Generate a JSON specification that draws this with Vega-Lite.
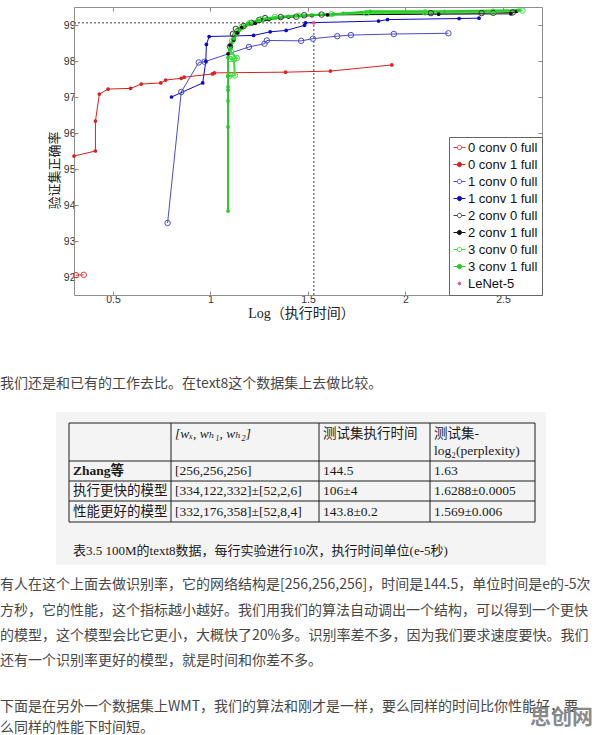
{
  "$schema": "https://vega.github.io/schema/vega-lite/v6.json",
  "background": "white",
  "padding": {"left": 0, "top": 5, "right": 0, "bottom": 0},
  "bounds": "flush",
  "spacing": 0,
  "config": {
    "view": {"stroke": null},
    "axis": {"domainColor": "#8c8c8c", "tickColor": "#8c8c8c", "labelColor": "#333333", "labelFont": "Liberation Sans", "labelFontSize": 10.5, "grid": false, "tickSize": -4, "domainWidth": 1}
  },
  "datasets": {
    "refs": [
      {"t0": 0.3, "t1": 1.53, "a0": 99.06, "a1": 99.06},
      {"t0": 1.53, "t1": 1.53, "a0": 91.5, "a1": 99.06}
    ],
    "curves": [
      {"series": "0 conv 0 full", "i": 1, "logt": 0.31, "acc": 92.05},
      {"series": "0 conv 0 full", "i": 2, "logt": 0.35, "acc": 92.06},
      {"series": "0 conv 1 full", "i": 1, "logt": 0.30, "acc": 95.36},
      {"series": "0 conv 1 full", "i": 2, "logt": 0.41, "acc": 95.50},
      {"series": "0 conv 1 full", "i": 3, "logt": 0.41, "acc": 96.33},
      {"series": "0 conv 1 full", "i": 4, "logt": 0.43, "acc": 97.08},
      {"series": "0 conv 1 full", "i": 5, "logt": 0.475, "acc": 97.22},
      {"series": "0 conv 1 full", "i": 6, "logt": 0.59, "acc": 97.24},
      {"series": "0 conv 1 full", "i": 7, "logt": 0.645, "acc": 97.36},
      {"series": "0 conv 1 full", "i": 8, "logt": 0.745, "acc": 97.39},
      {"series": "0 conv 1 full", "i": 9, "logt": 0.77, "acc": 97.47},
      {"series": "0 conv 1 full", "i": 10, "logt": 0.85, "acc": 97.52},
      {"series": "0 conv 1 full", "i": 11, "logt": 0.865, "acc": 97.55},
      {"series": "0 conv 1 full", "i": 12, "logt": 1.01, "acc": 97.64},
      {"series": "0 conv 1 full", "i": 13, "logt": 1.02, "acc": 97.67},
      {"series": "0 conv 1 full", "i": 14, "logt": 1.385, "acc": 97.69},
      {"series": "0 conv 1 full", "i": 15, "logt": 1.615, "acc": 97.72},
      {"series": "0 conv 1 full", "i": 16, "logt": 1.93, "acc": 97.89},
      {"series": "1 conv 0 full", "i": 1, "logt": 0.78, "acc": 93.50},
      {"series": "1 conv 0 full", "i": 2, "logt": 0.85, "acc": 97.14},
      {"series": "1 conv 0 full", "i": 3, "logt": 0.94, "acc": 97.96},
      {"series": "1 conv 0 full", "i": 4, "logt": 0.97, "acc": 97.98},
      {"series": "1 conv 0 full", "i": 5, "logt": 1.197, "acc": 98.39},
      {"series": "1 conv 0 full", "i": 6, "logt": 1.277, "acc": 98.48},
      {"series": "1 conv 0 full", "i": 7, "logt": 1.289, "acc": 98.57},
      {"series": "1 conv 0 full", "i": 8, "logt": 1.465, "acc": 98.56},
      {"series": "1 conv 0 full", "i": 9, "logt": 1.525, "acc": 98.62},
      {"series": "1 conv 0 full", "i": 10, "logt": 1.65, "acc": 98.69},
      {"series": "1 conv 0 full", "i": 11, "logt": 1.72, "acc": 98.72},
      {"series": "1 conv 0 full", "i": 12, "logt": 1.94, "acc": 98.75},
      {"series": "1 conv 0 full", "i": 13, "logt": 2.22, "acc": 98.77},
      {"series": "1 conv 1 full", "i": 1, "logt": 0.80, "acc": 97.00},
      {"series": "1 conv 1 full", "i": 2, "logt": 0.96, "acc": 97.39},
      {"series": "1 conv 1 full", "i": 3, "logt": 0.976, "acc": 97.99},
      {"series": "1 conv 1 full", "i": 4, "logt": 0.979, "acc": 98.46},
      {"series": "1 conv 1 full", "i": 5, "logt": 0.993, "acc": 98.68},
      {"series": "1 conv 1 full", "i": 6, "logt": 1.221, "acc": 98.71},
      {"series": "1 conv 1 full", "i": 7, "logt": 1.306, "acc": 98.81},
      {"series": "1 conv 1 full", "i": 8, "logt": 1.388, "acc": 98.85},
      {"series": "1 conv 1 full", "i": 9, "logt": 1.482, "acc": 98.99},
      {"series": "1 conv 1 full", "i": 10, "logt": 1.487, "acc": 99.06},
      {"series": "1 conv 1 full", "i": 11, "logt": 1.862, "acc": 99.11},
      {"series": "1 conv 1 full", "i": 12, "logt": 1.908, "acc": 99.15},
      {"series": "1 conv 1 full", "i": 13, "logt": 2.275, "acc": 99.18},
      {"series": "1 conv 1 full", "i": 14, "logt": 2.377, "acc": 99.19},
      {"series": "2 conv 0 full", "i": 1, "logt": 1.10, "acc": 98.40},
      {"series": "2 conv 0 full", "i": 2, "logt": 1.115, "acc": 98.75},
      {"series": "2 conv 0 full", "i": 3, "logt": 1.13, "acc": 98.89},
      {"series": "2 conv 0 full", "i": 4, "logt": 1.17, "acc": 98.97},
      {"series": "2 conv 0 full", "i": 5, "logt": 1.21, "acc": 99.06},
      {"series": "2 conv 0 full", "i": 6, "logt": 1.25, "acc": 99.14},
      {"series": "2 conv 0 full", "i": 7, "logt": 1.28, "acc": 99.19},
      {"series": "2 conv 0 full", "i": 8, "logt": 1.36, "acc": 99.22},
      {"series": "2 conv 0 full", "i": 9, "logt": 1.44, "acc": 99.23},
      {"series": "2 conv 0 full", "i": 10, "logt": 1.48, "acc": 99.27},
      {"series": "2 conv 0 full", "i": 11, "logt": 1.57, "acc": 99.29},
      {"series": "2 conv 0 full", "i": 12, "logt": 2.13, "acc": 99.33},
      {"series": "2 conv 0 full", "i": 13, "logt": 2.39, "acc": 99.33},
      {"series": "2 conv 0 full", "i": 14, "logt": 2.45, "acc": 99.34},
      {"series": "2 conv 0 full", "i": 15, "logt": 2.55, "acc": 99.35},
      {"series": "2 conv 1 full", "i": 1, "logt": 1.09, "acc": 98.20},
      {"series": "2 conv 1 full", "i": 2, "logt": 1.10, "acc": 98.44},
      {"series": "2 conv 1 full", "i": 3, "logt": 1.12, "acc": 98.58},
      {"series": "2 conv 1 full", "i": 4, "logt": 1.14, "acc": 98.78},
      {"series": "2 conv 1 full", "i": 5, "logt": 1.16, "acc": 98.93},
      {"series": "2 conv 1 full", "i": 6, "logt": 1.23, "acc": 99.05},
      {"series": "2 conv 1 full", "i": 7, "logt": 1.30, "acc": 99.15},
      {"series": "2 conv 1 full", "i": 8, "logt": 1.40, "acc": 99.22},
      {"series": "2 conv 1 full", "i": 9, "logt": 1.52, "acc": 99.26},
      {"series": "2 conv 1 full", "i": 10, "logt": 1.60, "acc": 99.28},
      {"series": "2 conv 1 full", "i": 11, "logt": 2.17, "acc": 99.30},
      {"series": "2 conv 1 full", "i": 12, "logt": 2.54, "acc": 99.31},
      {"series": "2 conv 1 full", "i": 13, "logt": 2.57, "acc": 99.38},
      {"series": "3 conv 0 full", "i": 1, "logt": 1.095, "acc": 97.58},
      {"series": "3 conv 0 full", "i": 2, "logt": 1.125, "acc": 97.60},
      {"series": "3 conv 0 full", "i": 3, "logt": 1.12, "acc": 98.05},
      {"series": "3 conv 0 full", "i": 4, "logt": 1.10, "acc": 98.06},
      {"series": "3 conv 0 full", "i": 5, "logt": 1.135, "acc": 98.08},
      {"series": "3 conv 0 full", "i": 6, "logt": 1.105, "acc": 98.25},
      {"series": "3 conv 0 full", "i": 7, "logt": 1.11, "acc": 98.55},
      {"series": "3 conv 0 full", "i": 8, "logt": 1.13, "acc": 98.80},
      {"series": "3 conv 0 full", "i": 9, "logt": 1.16, "acc": 98.95},
      {"series": "3 conv 0 full", "i": 10, "logt": 1.20, "acc": 99.05},
      {"series": "3 conv 0 full", "i": 11, "logt": 1.26, "acc": 99.16},
      {"series": "3 conv 0 full", "i": 12, "logt": 1.33, "acc": 99.22},
      {"series": "3 conv 0 full", "i": 13, "logt": 1.45, "acc": 99.26},
      {"series": "3 conv 0 full", "i": 14, "logt": 1.62, "acc": 99.30},
      {"series": "3 conv 0 full", "i": 15, "logt": 1.80, "acc": 99.33},
      {"series": "3 conv 0 full", "i": 16, "logt": 2.10, "acc": 99.35},
      {"series": "3 conv 0 full", "i": 17, "logt": 2.45, "acc": 99.37},
      {"series": "3 conv 0 full", "i": 18, "logt": 2.60, "acc": 99.40},
      {"series": "3 conv 1 full", "i": 1, "logt": 1.09, "acc": 93.83},
      {"series": "3 conv 1 full", "i": 2, "logt": 1.09, "acc": 96.17},
      {"series": "3 conv 1 full", "i": 3, "logt": 1.09, "acc": 96.89},
      {"series": "3 conv 1 full", "i": 4, "logt": 1.09, "acc": 97.19},
      {"series": "3 conv 1 full", "i": 5, "logt": 1.09, "acc": 97.28},
      {"series": "3 conv 1 full", "i": 6, "logt": 1.09, "acc": 97.58},
      {"series": "3 conv 1 full", "i": 7, "logt": 1.09, "acc": 98.10},
      {"series": "3 conv 1 full", "i": 8, "logt": 1.10, "acc": 98.35},
      {"series": "3 conv 1 full", "i": 9, "logt": 1.12, "acc": 98.62},
      {"series": "3 conv 1 full", "i": 10, "logt": 1.15, "acc": 98.86},
      {"series": "3 conv 1 full", "i": 11, "logt": 1.19, "acc": 99.02},
      {"series": "3 conv 1 full", "i": 12, "logt": 1.24, "acc": 99.12},
      {"series": "3 conv 1 full", "i": 13, "logt": 1.30, "acc": 99.18},
      {"series": "3 conv 1 full", "i": 14, "logt": 1.40, "acc": 99.24},
      {"series": "3 conv 1 full", "i": 15, "logt": 1.52, "acc": 99.28},
      {"series": "3 conv 1 full", "i": 16, "logt": 1.63, "acc": 99.30},
      {"series": "3 conv 1 full", "i": 17, "logt": 1.68, "acc": 99.32},
      {"series": "3 conv 1 full", "i": 18, "logt": 1.82, "acc": 99.38},
      {"series": "3 conv 1 full", "i": 19, "logt": 2.20, "acc": 99.38},
      {"series": "3 conv 1 full", "i": 20, "logt": 2.58, "acc": 99.41},
      {"series": "LeNet-5", "i": 1, "logt": 1.53, "acc": 99.06}
    ],
    "page": [
      {"part": "bg", "col": 1, "col2": 11, "line": 1, "line2": 13},
      {"part": "border", "col": 2, "col2": 10, "line": 2, "line2": 2},
      {"part": "border", "col": 2, "col2": 10, "line": 5, "line2": 5},
      {"part": "border", "col": 2, "col2": 10, "line": 7, "line2": 7},
      {"part": "border", "col": 2, "col2": 10, "line": 9, "line2": 9},
      {"part": "border", "col": 2, "col2": 10, "line": 11, "line2": 11},
      {"part": "border", "col": 2, "col2": 2, "line": 2, "line2": 11},
      {"part": "border", "col": 4, "col2": 4, "line": 2, "line2": 11},
      {"part": "border", "col": 6, "col2": 6, "line": 2, "line2": 11},
      {"part": "border", "col": 8, "col2": 8, "line": 2, "line2": 11},
      {"part": "border", "col": 10, "col2": 10, "line": 2, "line2": 11},
      {"part": "body", "col": 0, "line": 0, "text": "我们还是和已有的工作去比。在text8这个数据集上去做比较。"},
      {"part": "cellmath", "col": 5, "line": 3, "text": "[wₓ, wₕ₁, wₕ₂]"},
      {"part": "cell", "col": 7, "line": 3, "text": "测试集执行时间"},
      {"part": "cell", "col": 9, "line": 3, "text": "测试集-"},
      {"part": "cell", "col": 9, "line": 4, "text": "log₂(perplexity)"},
      {"part": "cellhead", "col": 3, "line": 6, "text": "Zhang等"},
      {"part": "cell", "col": 5, "line": 6, "text": "[256,256,256]"},
      {"part": "cell", "col": 7, "line": 6, "text": "144.5"},
      {"part": "cell", "col": 9, "line": 6, "text": "1.63"},
      {"part": "cell", "col": 3, "line": 8, "text": "执行更快的模型"},
      {"part": "cell", "col": 5, "line": 8, "text": "[334,122,332]±[52,2,6]"},
      {"part": "cell", "col": 7, "line": 8, "text": "106±4"},
      {"part": "cell", "col": 9, "line": 8, "text": "1.6288±0.0005"},
      {"part": "cell", "col": 3, "line": 10, "text": "性能更好的模型"},
      {"part": "cell", "col": 5, "line": 10, "text": "[332,176,358]±[52,8,4]"},
      {"part": "cell", "col": 7, "line": 10, "text": "143.8±0.2"},
      {"part": "cell", "col": 9, "line": 10, "text": "1.569±0.006"},
      {"part": "caption", "col": 3, "line": 12, "text": "表3.5 100M的text8数据，每行实验进行10次，执行时间单位(e-5秒)"},
      {"part": "body", "col": 0, "line": 14, "text": "有人在这个上面去做识别率，它的网络结构是[256,256,256]，时间是144.5，单位时间是e的-5次"},
      {"part": "body", "col": 0, "line": 15, "text": "方秒，它的性能，这个指标越小越好。我们用我们的算法自动调出一个结构，可以得到一个更快"},
      {"part": "body", "col": 0, "line": 16, "text": "的模型，这个模型会比它更小，大概快了20%多。识别率差不多，因为我们要求速度要快。我们"},
      {"part": "body", "col": 0, "line": 17, "text": "还有一个识别率更好的模型，就是时间和你差不多。"},
      {"part": "body", "col": 0, "line": 18, "text": "下面是在另外一个数据集上WMT，我们的算法和刚才是一样，要么同样的时间比你性能好，要"},
      {"part": "body", "col": 0, "line": 19, "text": "么同样的性能下时间短。"},
      {"part": "logo", "col": 12, "line": 18.5, "text": "思创网"}
    ]
  },
  "vconcat": [
    {
      "width": 468,
      "height": 288,
      "resolve": {
        "axis": {"x": "independent", "y": "independent"},
        "scale": {"stroke": "independent", "fill": "independent", "shape": "independent"},
        "legend": {"stroke": "independent", "fill": "independent", "shape": "independent"}
      },
      "layer": [
        {
          "data": {"name": "refs"},
          "mark": {"type": "rule", "color": "#444444", "strokeDash": [2, 2], "strokeWidth": 1},
          "encoding": {
            "x": {"field": "t0", "type": "quantitative", "scale": {"domain": [0.3, 2.7], "nice": false, "zero": false},
                  "axis": {"orient": "top", "labels": false, "title": null, "values": [0.5, 1, 1.5, 2, 2.5]}},
            "x2": {"field": "t1"},
            "y": {"field": "a0", "type": "quantitative", "scale": {"domain": [91.5, 99.5], "nice": false, "zero": false},
                  "axis": {"orient": "right", "labels": false, "title": null, "values": [92, 93, 94, 95, 96, 97, 98, 99]}},
            "y2": {"field": "a1"}
          }
        },
        {
          "data": {"name": "curves"},
          "transform": [{"filter": "indexof(['3 conv 0 full','3 conv 1 full','LeNet-5'], datum.series) < 0"}],
          "mark": {"type": "line", "strokeWidth": 1},
          "encoding": {
            "x": {"field": "logt", "type": "quantitative",
                  "axis": {"orient": "bottom", "values": [0.5, 1, 1.5, 2, 2.5], "format": "~g", "labelPadding": 3,
                           "title": "Log（执行时间）", "titleFont": "Liberation Serif, Noto Sans CJK SC", "titleFontSize": 14,
                           "titleFontWeight": "normal", "titleColor": "#222222", "titlePadding": 2, "titleX": 227}},
            "y": {"field": "acc", "type": "quantitative",
                  "axis": {"orient": "left", "values": [92, 93, 94, 95, 96, 97, 98, 99], "labelPadding": 3,
                           "title": "验证集正确率", "titleFont": "Noto Sans CJK SC", "titleFontSize": 13,
                           "titleFontWeight": "normal", "titleColor": "#222222", "titlePadding": 2, "titleY": 163}},
            "stroke": {"field": "series", "type": "nominal",
                       "scale": {"domain": ["0 conv 0 full", "0 conv 1 full", "1 conv 0 full", "1 conv 1 full", "2 conv 0 full", "2 conv 1 full", "3 conv 0 full", "3 conv 1 full", "LeNet-5"],
                                 "range": ["#e8383d", "#dd1f1f", "#4a4ad0", "#0a0ac8", "#444444", "#111111", "#3ce03c", "#22cc22", "#e046a6"]},
                       "legend": null},
            "order": {"field": "i", "type": "quantitative"}
          }
        },
        {
          "data": {"name": "curves"},
          "transform": [{"filter": "indexof(['3 conv 0 full','3 conv 1 full'], datum.series) >= 0"}],
          "mark": {"type": "line", "strokeWidth": 2},
          "encoding": {
            "x": {"field": "logt", "type": "quantitative", "axis": null},
            "y": {"field": "acc", "type": "quantitative", "axis": null},
            "stroke": {"field": "series", "type": "nominal",
                       "scale": {"domain": ["3 conv 0 full", "3 conv 1 full"], "range": ["#3ce03c", "#22cc22"]},
                       "legend": null},
            "order": {"field": "i", "type": "quantitative"}
          }
        },
        {
          "data": {"name": "curves"},
          "transform": [{"filter": "indexof(['0 conv 0 full','1 conv 0 full','2 conv 0 full','3 conv 0 full'], datum.series) >= 0"}],
          "mark": {"type": "point", "filled": false, "size": 30, "strokeWidth": 1, "opacity": 1},
          "encoding": {
            "x": {"field": "logt", "type": "quantitative", "axis": null},
            "y": {"field": "acc", "type": "quantitative", "axis": null},
            "stroke": {"field": "series", "type": "nominal",
                       "scale": {"domain": ["0 conv 0 full", "1 conv 0 full", "2 conv 0 full", "3 conv 0 full"], "range": ["#e8383d", "#4a4ad0", "#333333", "#3ce03c"]},
                       "legend": null}
          }
        },
        {
          "data": {"name": "curves"},
          "transform": [{"filter": "indexof(['0 conv 1 full','1 conv 1 full','2 conv 1 full','3 conv 1 full','LeNet-5'], datum.series) >= 0"}],
          "mark": {"type": "point", "filled": true, "size": 14, "strokeWidth": 0, "opacity": 1},
          "encoding": {
            "x": {"field": "logt", "type": "quantitative", "axis": null},
            "y": {"field": "acc", "type": "quantitative", "axis": null},
            "fill": {"field": "series", "type": "nominal",
                     "scale": {"domain": ["0 conv 1 full", "1 conv 1 full", "2 conv 1 full", "3 conv 1 full", "LeNet-5"],
                               "range": ["#dd1f1f", "#0a0ac8", "#111111", "#22cc22", "#e046a6"]},
                     "legend": null}
          }
        },
        {
          "data": {"values": [{"series": "0 conv 0 full"}, {"series": "0 conv 1 full"}, {"series": "1 conv 0 full"}, {"series": "1 conv 1 full"}, {"series": "2 conv 0 full"}, {"series": "2 conv 1 full"}, {"series": "3 conv 0 full"}, {"series": "3 conv 1 full"}, {"series": "LeNet-5"}]},
          "mark": {"type": "point", "filled": true, "size": 144, "strokeWidth": 1, "opacity": 0},
          "encoding": {
            "shape": {"field": "series", "type": "nominal",
                      "scale": {"domain": ["0 conv 0 full", "0 conv 1 full", "1 conv 0 full", "1 conv 1 full", "2 conv 0 full", "2 conv 1 full", "3 conv 0 full", "3 conv 1 full", "LeNet-5"],
                                "range": [
                                  "M-1,0L-0.36,0M0.36,0L1,0M0.36,0A0.36,0.36,0,1,1,-0.36,0A0.36,0.36,0,1,1,0.36,0Z",
                                  "M-1,0L-0.36,0M0.36,0L1,0M0.36,0A0.36,0.36,0,1,1,-0.36,0A0.36,0.36,0,1,1,0.36,0Z",
                                  "M-1,0L-0.36,0M0.36,0L1,0M0.36,0A0.36,0.36,0,1,1,-0.36,0A0.36,0.36,0,1,1,0.36,0Z",
                                  "M-1,0L-0.36,0M0.36,0L1,0M0.36,0A0.36,0.36,0,1,1,-0.36,0A0.36,0.36,0,1,1,0.36,0Z",
                                  "M-1,0L-0.36,0M0.36,0L1,0M0.36,0A0.36,0.36,0,1,1,-0.36,0A0.36,0.36,0,1,1,0.36,0Z",
                                  "M-1,0L-0.36,0M0.36,0L1,0M0.36,0A0.36,0.36,0,1,1,-0.36,0A0.36,0.36,0,1,1,0.36,0Z",
                                  "M-1,0L-0.36,0M0.36,0L1,0M0.36,0A0.36,0.36,0,1,1,-0.36,0A0.36,0.36,0,1,1,0.36,0Z",
                                  "M-1,0L-0.36,0M0.36,0L1,0M0.36,0A0.36,0.36,0,1,1,-0.36,0A0.36,0.36,0,1,1,0.36,0Z",
                                  "M0.22,0A0.22,0.22,0,1,1,-0.22,0A0.22,0.22,0,1,1,0.22,0Z"
                                ]},
                      "legend": {"title": null, "orient": "bottom-right", "offset": 0, "padding": 4, "strokeColor": "#666666", "fillColor": "white",
                                 "labelFont": "Liberation Sans", "labelFontSize": 13, "labelColor": "#111111", "symbolSize": 144,
                                 "symbolStrokeWidth": 1, "symbolOpacity": 1, "rowPadding": 3, "labelOffset": 2, "cornerRadius": 0}},
            "stroke": {"field": "series", "type": "nominal",
                       "scale": {"domain": ["0 conv 0 full", "0 conv 1 full", "1 conv 0 full", "1 conv 1 full", "2 conv 0 full", "2 conv 1 full", "3 conv 0 full", "3 conv 1 full", "LeNet-5"],
                                 "range": ["#e8383d", "#dd1f1f", "#4a4ad0", "#0a0ac8", "#444444", "#111111", "#3ce03c", "#22cc22", "#e046a6"]},
                       "legend": {"title": null, "orient": "bottom-right", "offset": 0, "padding": 4, "strokeColor": "#666666", "fillColor": "white",
                                  "labelFont": "Liberation Sans", "labelFontSize": 13, "labelColor": "#111111", "symbolSize": 144,
                                  "symbolStrokeWidth": 1, "symbolOpacity": 1, "rowPadding": 3, "labelOffset": 2, "cornerRadius": 0}},
            "fill": {"field": "series", "type": "nominal",
                     "scale": {"domain": ["0 conv 0 full", "0 conv 1 full", "1 conv 0 full", "1 conv 1 full", "2 conv 0 full", "2 conv 1 full", "3 conv 0 full", "3 conv 1 full", "LeNet-5"],
                               "range": ["transparent", "#dd1f1f", "transparent", "#0a0ac8", "transparent", "#111111", "transparent", "#22cc22", "#e046a6"]},
                     "legend": {"title": null, "orient": "bottom-right", "offset": 0, "padding": 4, "strokeColor": "#666666", "fillColor": "white",
                                "labelFont": "Liberation Sans", "labelFontSize": 13, "labelColor": "#111111", "symbolSize": 144,
                                "symbolStrokeWidth": 1, "symbolOpacity": 1, "rowPadding": 3, "labelOffset": 2, "cornerRadius": 0}}
          }
        }
      ]
    },
    {
      "width": 468,
      "height": 442,
      "data": {"name": "page"},
      "encoding": {
        "x": {"field": "col", "type": "quantitative", "axis": null,
              "scale": {"domain": [0, 1, 2, 3, 4, 5, 6, 7, 8, 9, 10, 11, 12], "range": [-74, -18, -5, -1, 97, 101, 245, 249, 356, 360, 461, 472, 519]}},
        "y": {"field": "line", "type": "quantitative", "axis": null,
              "scale": {"domain": [0, 1, 2, 3, 4, 5, 6, 7, 8, 9, 10, 11, 12, 13, 14, 15, 16, 17, 18, 19],
                        "range": [89, 117, 128, 139, 156, 166, 176, 186, 196, 206, 217, 227, 256, 270, 290, 316, 341, 366, 412, 433]}}
      },
      "layer": [
        {
          "transform": [{"filter": "datum.part == 'bg'"}],
          "mark": {"type": "rect", "color": "#f4f4f4"},
          "encoding": {"x2": {"field": "col2"}, "y2": {"field": "line2"}}
        },
        {
          "transform": [{"filter": "datum.part == 'border'"}],
          "mark": {"type": "rule", "color": "#1e1e1e", "strokeWidth": 1},
          "encoding": {"x2": {"field": "col2"}, "y2": {"field": "line2"}}
        },
        {
          "transform": [{"filter": "datum.part == 'body'"}],
          "mark": {"type": "text", "align": "left", "baseline": "middle", "font": "Noto Sans CJK SC", "fontSize": 14, "color": "#474747"},
          "encoding": {"text": {"field": "text"}}
        },
        {
          "transform": [{"filter": "datum.part == 'cell'"}],
          "mark": {"type": "text", "align": "left", "baseline": "middle", "font": "Liberation Serif, Noto Sans CJK SC", "fontSize": 13.5, "color": "#1a1a1a"},
          "encoding": {"text": {"field": "text"}}
        },
        {
          "transform": [{"filter": "datum.part == 'cellhead'"}],
          "mark": {"type": "text", "align": "left", "baseline": "middle", "font": "Liberation Serif, Noto Sans CJK SC", "fontSize": 13.5, "fontWeight": "bold", "color": "#1a1a1a"},
          "encoding": {"text": {"field": "text"}}
        },
        {
          "transform": [{"filter": "datum.part == 'cellmath'"}],
          "mark": {"type": "text", "align": "left", "baseline": "middle", "font": "Liberation Serif, DejaVu Serif", "fontSize": 13.5, "fontStyle": "italic", "color": "#1a1a1a"},
          "encoding": {"text": {"field": "text"}}
        },
        {
          "transform": [{"filter": "datum.part == 'caption'"}],
          "mark": {"type": "text", "align": "left", "baseline": "middle", "font": "Liberation Serif, Noto Sans CJK SC", "fontSize": 13, "color": "#1a1a1a"},
          "encoding": {"text": {"field": "text"}}
        },
        {
          "transform": [{"filter": "datum.part == 'logo'"}],
          "mark": {"type": "text", "align": "right", "baseline": "middle", "font": "Noto Sans CJK SC", "fontSize": 21, "fontWeight": "bold", "color": "#8a8a8a"},
          "encoding": {"text": {"field": "text"}}
        }
      ]
    }
  ]
}
